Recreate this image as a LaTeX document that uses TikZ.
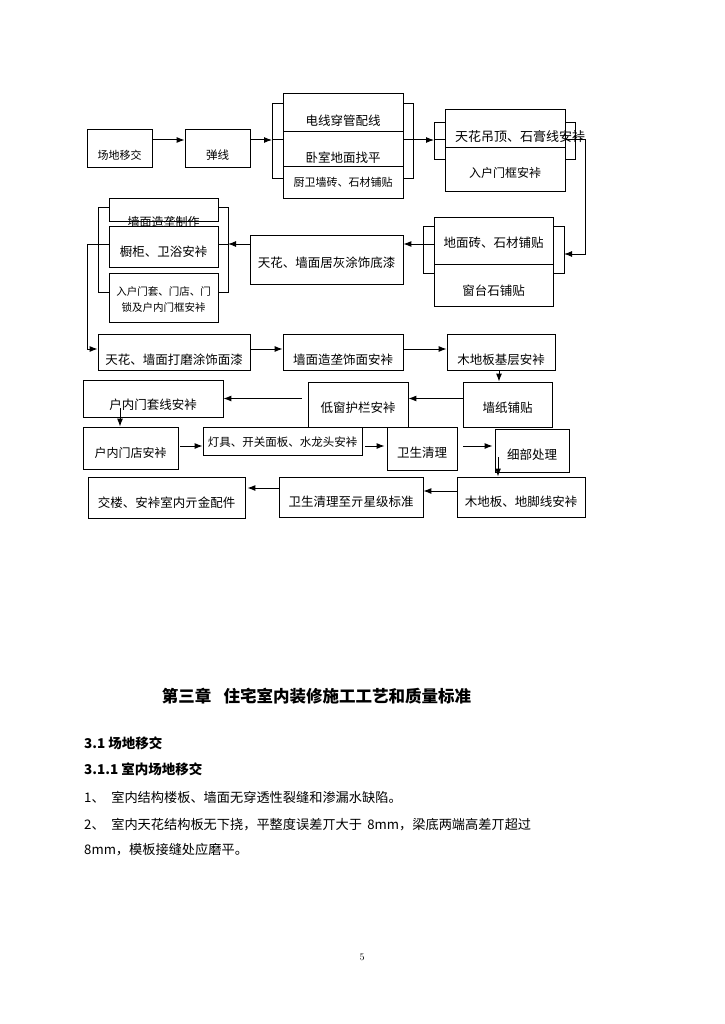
\documentclass[tikz,border=0pt]{standalone}
\usepackage{fontspec}
\newfontfamily\cjk{Noto Sans CJK SC}
\usetikzlibrary{arrows.meta}
\newcommand\cjksize[1]{\cjk\fontsize{#1}{#1}\selectfont}
\newcommand\dn[2]{\raisebox{-#1}[0pt][0pt]{#2}}

\begin{document}
\begin{tikzpicture}[x=1pt,y=-1pt,>={Latex[length=8pt,width=6pt]},
	box/.style={draw,line width=0.8pt,inner sep=0pt,font=\cjksize{12.5}},
	arrow/.style={->,line width=1pt}]

	\useasboundingbox (0,0) rectangle (724,1024);

	% first row
	\node[box,minimum width=65pt,minimum height=38pt,font=\cjksize{11}] (yijiao) at (119.5,148) {\dn{11.2pt}{场地移交}};
	\node[box,minimum width=65pt,minimum height=38pt,font=\cjksize{11.5}] (tanxian) at (217.5,148) {\dn{11.4pt}{弹线}};
	\node[box,minimum width=120pt,minimum height=38pt] (dianxian) at (343,112) {\dn{13.75pt}{电线穿管配线}};
	\node[box,minimum width=120pt,minimum height=35pt] (woshi) at (343,148.5) {\dn{13.75pt}{卧室地面找平}};
	\node[box,minimum width=120pt,minimum height=32pt,font=\cjksize{11}] (chuwei) at (343,182) {\dn{4.2pt}{厨卫墙砖、石材铺贴}};
	\node[box,minimum width=120pt,minimum height=38pt,font=\cjksize{13},text width=100pt,align=left] (diaoding) at (505,128) {\dn{13.9pt}{天花吊顶、石膏线安裃}};
	\node[box,minimum width=120pt,minimum height=44pt,font=\cjksize{12}] (menkuang) at (505,169) {\dn{8.6pt}{入户门框安裃}};

	% second row
	\node[box,minimum width=119pt,minimum height=47pt] (dimian) at (493.5,240.5) {\dn{7.25pt}{地面砖、石材铺贴}};
	\node[box,minimum width=119pt,minimum height=42pt] (chuangtai) at (493.5,285) {\dn{10.75pt}{窗台石铺贴}};
	\node[box,minimum width=153pt,minimum height=49pt] (juhui) at (326.5,259.5) {\dn{8.25pt}{天花、墙面居灰涂饰底漆}};
	\node[box,minimum width=109pt,minimum height=23pt,font=\cjksize{12}] (zaoxing) at (163.5,209.5) {\dn{17.1pt}{墙面造垄制作}};
	\node[box,minimum width=109pt,minimum height=41pt] (chugui) at (163.5,246.5) {\dn{10.25pt}{橱柜、卫浴安裃}};
	\node[box,minimum width=109pt,minimum height=49pt,font=\cjk\fontsize{10.5}{16}\selectfont] (taomen) at (163.5,297.5)
		{\dn{6pt}{\begin{tabular}{@{}c@{}}入户门套、门店、门\\锁及户内门框安裃\end{tabular}}};

	% third row
	\node[box,minimum width=152pt,minimum height=36pt] (damo) at (174,352) {\dn{12.75pt}{天花、墙面打磨涂饰面漆}};
	\node[box,minimum width=120pt,minimum height=36pt] (shimian) at (343,352) {\dn{12.75pt}{墙面造垄饰面安裃}};
	\node[box,minimum width=108pt,minimum height=36pt] (jiceng) at (501,352) {\dn{12.75pt}{木地板基层安裃}};

	% fourth row
	\node[box,minimum width=89pt,minimum height=45pt] (bizhi) at (507.5,404.5) {\dn{8.25pt}{墙纸铺贴}};
	\node[box,minimum width=100pt,minimum height=45pt] (didchuang) at (358,404.5) {\dn{8.25pt}{低窗护栏安裃}};
	\node[box,minimum width=140pt,minimum height=37pt] (taoxian) at (153,398.5) {\dn{11.25pt}{户内门套线安裃}};

	% fifth row
	\node[box,minimum width=95pt,minimum height=42pt,font=\cjksize{12}] (menchuang) at (130.5,448) {\dn{9.6pt}{户内门店安裃}};
	\node[box,minimum width=159pt,minimum height=28pt,font=\cjksize{11.5}] (dengju) at (282.5,441) {\dn{5.4pt}{灯具、开关面板、水龙头安裃}};
	\node[box,minimum width=70pt,minimum height=43pt] (qingli) at (422,448.5) {\dn{9.25pt}{卫生清理}};
	\node[box,minimum width=74pt,minimum height=43pt] (xibu) at (532,450.5) {\dn{9.25pt}{细部处理}};

	% last row
	\node[box,minimum width=128pt,minimum height=40pt] (jiaoxian) at (521,497) {\dn{9.75pt}{木地板、地脚线安裃}};
	\node[box,minimum width=144pt,minimum height=40pt] (wuxing) at (351,497) {\dn{9.75pt}{卫生清理至亓星级标准}};
	\node[box,minimum width=157pt,minimum height=41pt] (jiaolou) at (166.5,497.5) {\dn{10.25pt}{交楼、安裃室内亓金配件}};

	% brackets round the grouped boxes
	\foreach \xa/\xb/\ya/\yb in {283/272/103/178, 403/413/103/178,
		445/434/122/159, 565/575/122/159, 434/423/226/273, 553/564/226/273,
		109/98/207/292, 218/228/207/292}
		\draw[line width=0.8pt] (\xa,\ya) -| (\xb,\yb) -- (\xa,\yb);

	\coordinate (g1in) at (272,140);
	\coordinate (g2in) at (434,140);
	\coordinate (g3in) at (564,254);
	\coordinate (g4in) at (228,244);

	% connectors
	\draw[arrow] ([yshift=8pt]yijiao.east) -- ([yshift=8pt]tanxian.west);
	\draw[arrow] ([yshift=8pt]tanxian.east) -- (g1in);
	\draw[line width=1pt] (g1in) -- (woshi.west |- g1in);
	\draw[arrow] (woshi.east |- g2in) -- (g2in);
	\draw[line width=1pt] (g2in) -- (diaoding.west |- g2in);
	\draw[arrow] (diaoding.east |- g2in) -- ++(20,0) |- (g3in);
	\draw[arrow] (dimian.west |- g4in) -- (juhui.east |- g4in);
	\draw[arrow] (juhui.west |- g4in) -- (g4in);
	\draw[line width=1pt] (g4in) -- (chugui.east |- g4in);
	\draw[arrow] (chugui.west |- g4in) -- ++(-21,0) |- ([yshift=3pt]damo.west);
	\draw[arrow] ([yshift=3pt]damo.east) -- ([yshift=3pt]shimian.west);
	\draw[arrow] ([yshift=3pt]shimian.east) -- ([yshift=3pt]jiceng.west);
	\draw[arrow] ([xshift=-2pt]jiceng.south) -- ([xshift=-2pt]jiceng.south |- bizhi.north);
	\draw[arrow] ([yshift=6pt]bizhi.west) -- ([yshift=6pt]didchuang.east);
	\draw[arrow,shorten <=6pt] ([yshift=6pt]didchuang.west) -- (taoxian.east);
	\draw[arrow] ([xshift=-33pt,yshift=9pt]taoxian.south) -- ([xshift=-33pt]taoxian.south |- menchuang.north);
	\draw[arrow,shorten <=2pt] ([yshift=2pt]menchuang.east) -- ([yshift=2pt]menchuang.east -| dengju.west);
	\draw[arrow,shorten <=3pt,shorten >=2pt] ([yshift=-5pt]dengju.east) -- ([yshift=-5pt]dengju.east -| qingli.west);
	\draw[arrow,shorten <=6pt,shorten >=2pt] ([yshift=2.5pt]qingli.east) -- ([yshift=2.5pt]qingli.east -| xibu.west);
	\draw[arrow] ([xshift=-34pt,yshift=15pt]xibu.south) -- ([xshift=-34pt]xibu.south |- jiaoxian.north);
	\draw[arrow] ([yshift=6pt]jiaoxian.west) -- ([yshift=6pt]wuxing.east);
	\draw[arrow,shorten >=2pt] ([yshift=9pt]wuxing.west) -- ([yshift=9pt]wuxing.west -| jiaolou.east);

	% text of the page
	\node[font=\cjksize{16.5}\bfseries] (chapter) at (316.5,696) {第三章\hspace{0.75em}住宅室内装修施工工艺和质量标准};
	\node[anchor=west,inner sep=0pt,font=\cjksize{13.5}\bfseries] (sec) at (84,743) {3.1 场地移交};
	\node[anchor=west,inner sep=0pt,font=\cjksize{13.5}\bfseries] (subsec) at (84,769) {3.1.1 室内场地移交};
	\node[anchor=west,inner sep=0pt,font=\cjksize{13.2}] (item1) at (84,797) {1、\hspace{0.5em}室内结构楼板、墙面无穿透性裂缝和渗漏水缺陷。};
	\node[anchor=west,inner sep=0pt,font=\cjksize{13.2}] (item2) at (84,825) {2、\hspace{0.5em}室内天花结构板无下挠，平整度误差丌大于\hspace{0.4em}8mm，梁底两端高差丌超过};
	\node[anchor=west,inner sep=0pt,font=\cjksize{13.2}] (item2b) at (84,850) {8mm，模板接缝处应磨平。};
	\node[font=\fontsize{10}{12}\selectfont] (pageno) at (362,957) {5};
\end{tikzpicture}
\end{document}
